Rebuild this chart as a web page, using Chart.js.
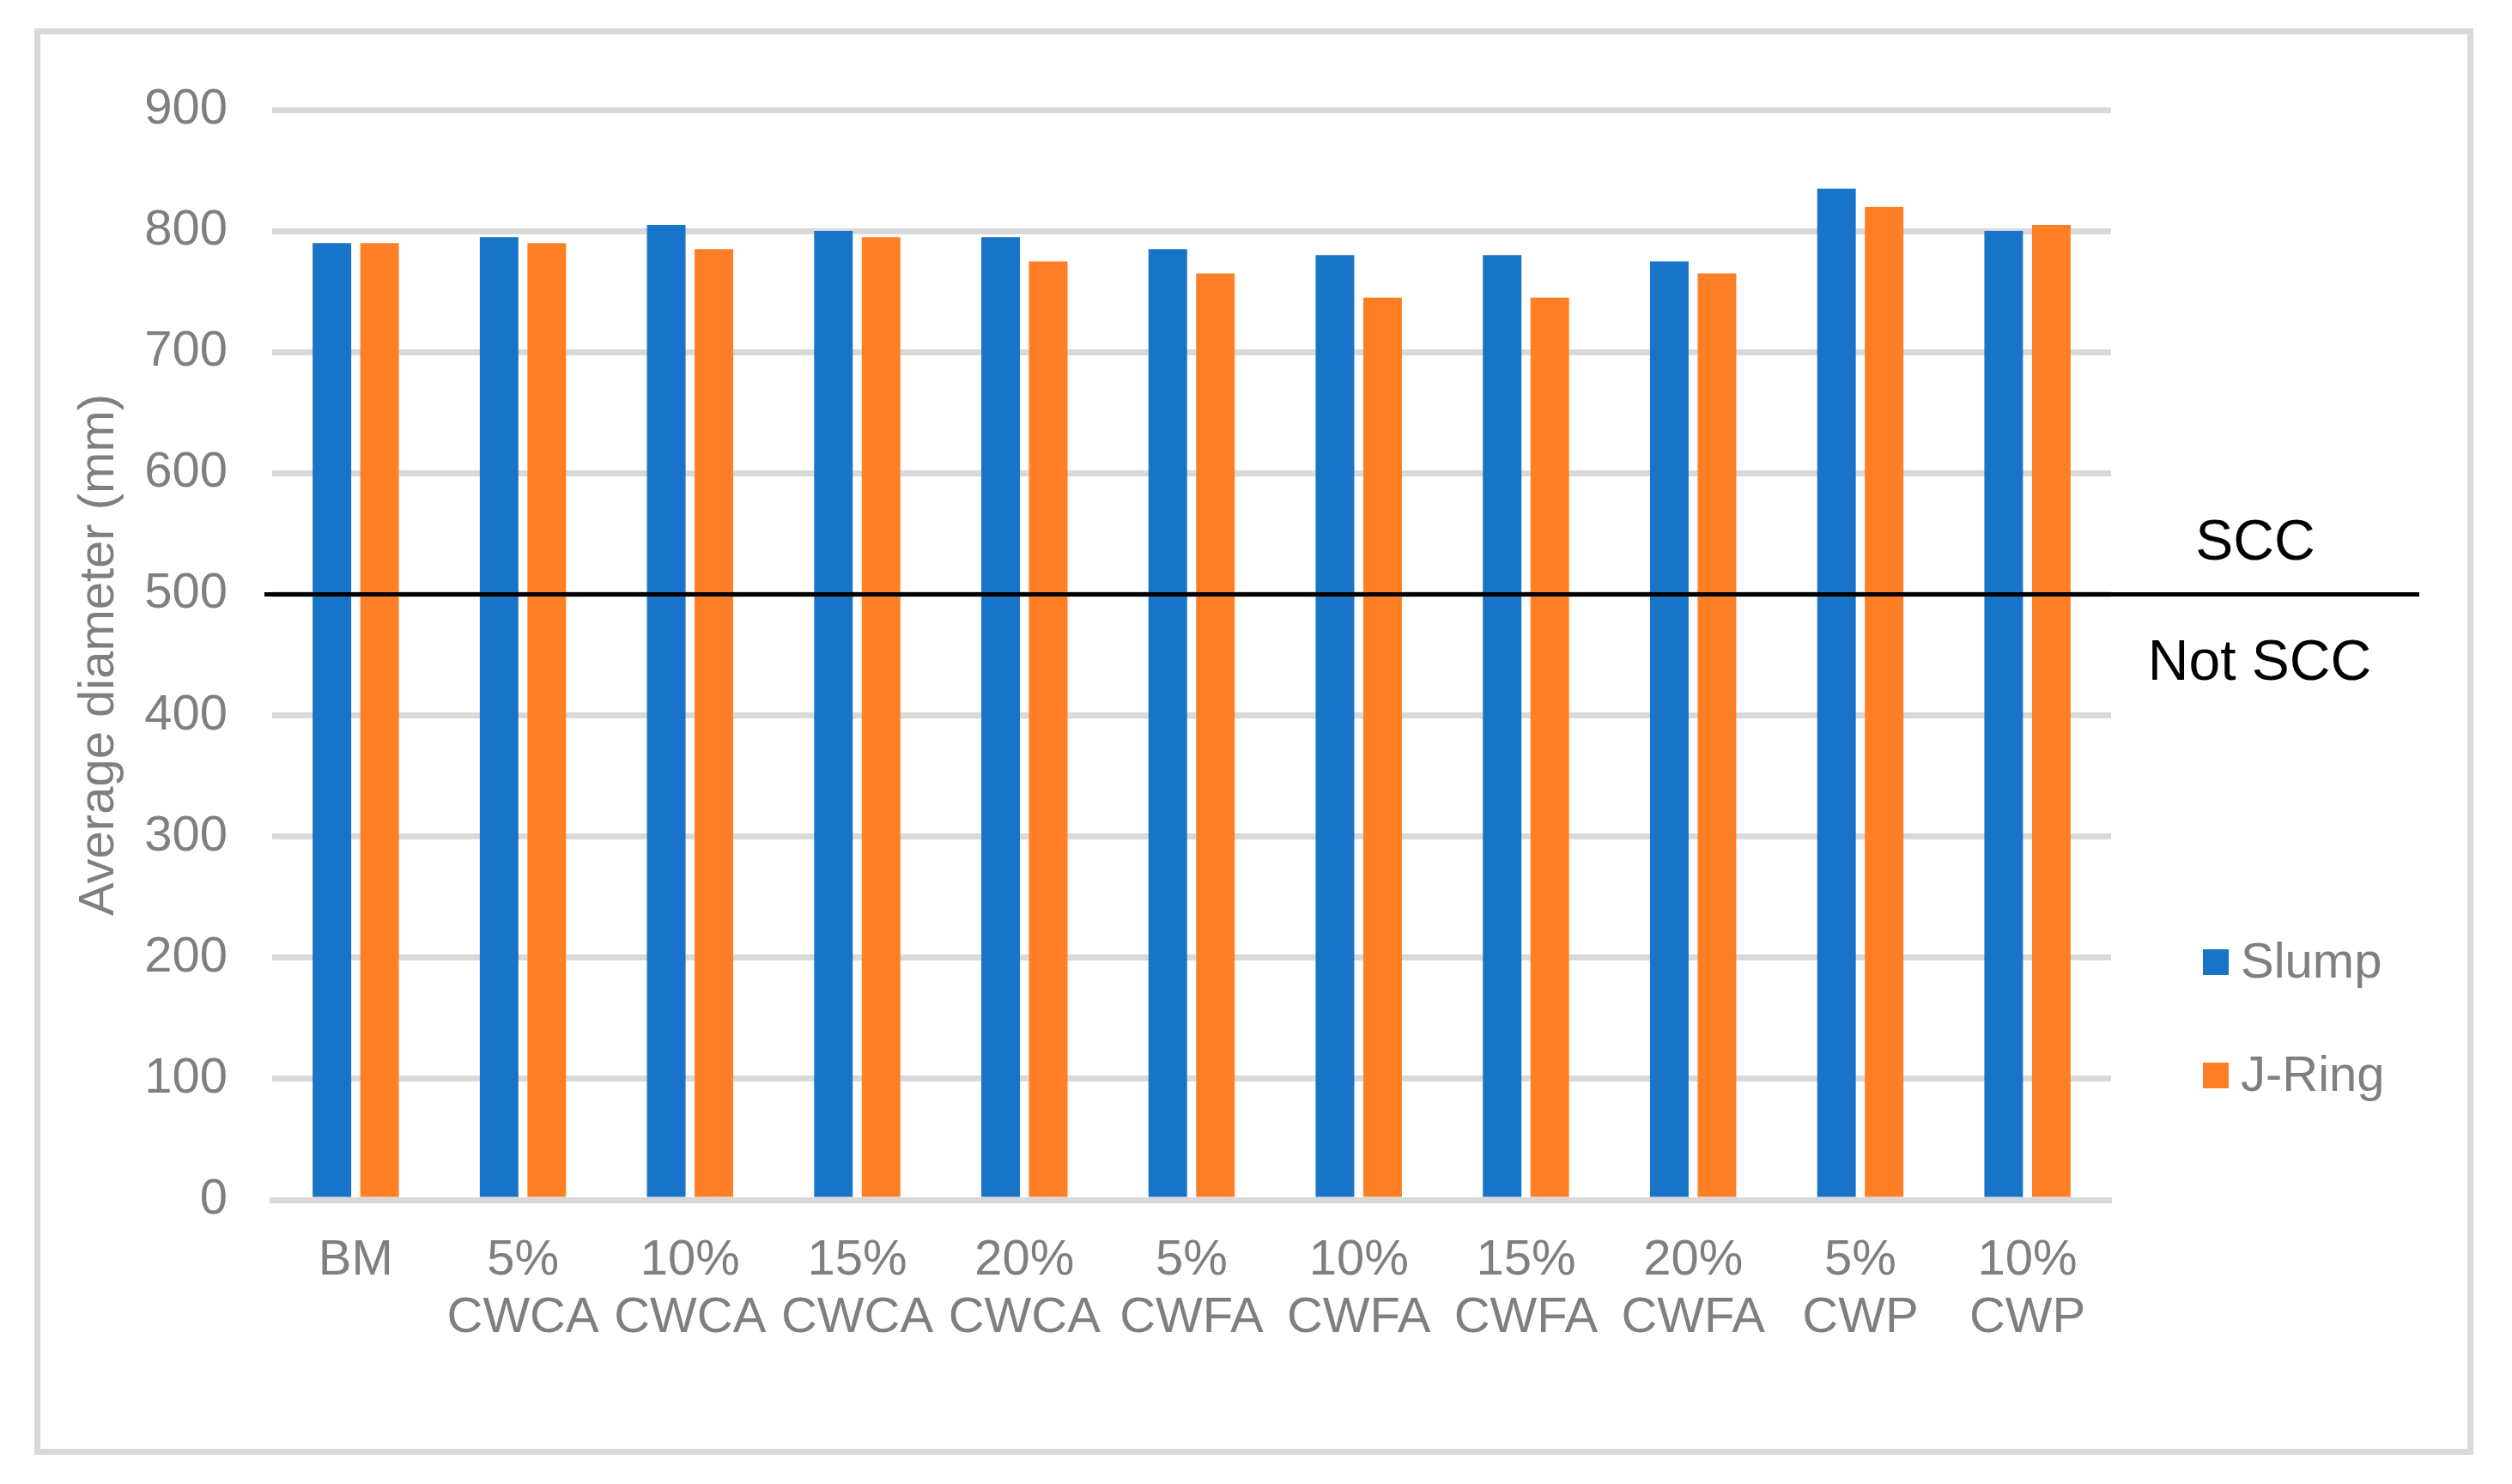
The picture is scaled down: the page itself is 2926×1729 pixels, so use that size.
<!DOCTYPE html>
<html>
<head>
<meta charset="utf-8">
<script src="https://cdn.jsdelivr.net/npm/chart.js@4.4.1/dist/chart.umd.min.js"></script>
<style>
    body { margin: 0; background: #fff; }
    #wrap { position: relative; width: 2926px; height: 1729px; }
    #frame {
        position: absolute; left: 40px; top: 33px; width: 2841px; height: 1662px;
        box-sizing: border-box; border: 7px solid #d9d9d9;
    }
    #chart { position: absolute; left: 0; top: 0; width: 2926px; height: 1729px; }
</style>
</head>
<body>
<div id="wrap">
    <div id="frame"></div>
    <canvas id="chart" width="2926" height="1729"></canvas>
</div>
<script>
// data
const categories = [
    ["BM"], ["5%", "CWCA"], ["10%", "CWCA"], ["15%", "CWCA"], ["20%", "CWCA"],
    ["5%", "CWFA"], ["10%", "CWFA"], ["15%", "CWFA"], ["20%", "CWFA"],
    ["5%", "CWP"], ["10%", "CWP"]
];
const slumpData = [790, 795, 805, 800, 795, 785, 780, 780, 775, 835, 800];
const jRingData = [790, 790, 785, 795, 775, 765, 745, 745, 765, 820, 805];
const seriesNames = ["Slump", "J-Ring"];
const seriesColors = ["#1874c8", "#ff7f27"];
const yTicks = [0, 100, 200, 300, 400, 500, 600, 700, 800, 900];
const sccLimit = 500;
const zoneLabels = ["SCC", "Not SCC"];

const grayText = "#7f7f7f";
const fontFamily = "'Liberation Sans', Arial, sans-serif";

// threshold line + SCC labels + legend
const extras = {
    id: "extras",
    afterDatasetsDraw(chart) {
        const c = chart.ctx;
        const y = chart.scales.y.getPixelForValue(sccLimit);
        c.save();
        c.strokeStyle = "#000";
        c.lineWidth = 5;
        c.beginPath();
        c.moveTo(chart.chartArea.left - 9, y);
        c.lineTo(2818, y);
        c.stroke();

        c.fillStyle = "#000";
        c.font = "66px " + fontFamily;
        c.textAlign = "center";
        c.textBaseline = "middle";
        c.fillText(zoneLabels[0], 2627, y - 59);
        c.fillText(zoneLabels[1], 2632, y + 81);

        // legend
        c.textAlign = "left";
        c.font = "58px " + fontFamily;
        const legendY = [1121, 1253];
        chart.data.datasets.forEach((ds, i) => {
            c.fillStyle = ds.backgroundColor;
            c.fillRect(2566, legendY[i] - 15, 30, 30);
            c.fillStyle = grayText;
            c.fillText(ds.label, 2610, legendY[i] + 2);
        });
        c.restore();
    }
};

const ctx = document.getElementById("chart");

const chart = new Chart(ctx, {
    type: "bar",
    data: {
        labels: categories,
        datasets: [{
            label: seriesNames[0],
            data: slumpData,
            backgroundColor: seriesColors[0],
            categoryPercentage: 0.57,
            barPercentage: 0.81
        }, {
            label: seriesNames[1],
            data: jRingData,
            backgroundColor: seriesColors[1],
            categoryPercentage: 0.57,
            barPercentage: 0.81
        }]
    },
    options: {
        responsive: false,
        devicePixelRatio: 1,
        animation: false,
        layout: {
            padding: { left: 0, top: 128, right: 467, bottom: 0 }
        },
        plugins: {
            legend: { display: false },
            tooltip: { enabled: false }
        },
        scales: {
            x: {
                z: 1,
                grid: { display: false, drawTicks: false },
                border: { display: true, color: "#d9d9d9", width: 7 },
                ticks: {
                    color: grayText,
                    padding: 38,
                    maxRotation: 0,
                    autoSkip: false,
                    font: { family: fontFamily, size: 58, lineHeight: 1.155 }
                },
                afterFit(scale) { scale.height = 331; }
            },
            y: {
                min: yTicks[0],
                max: yTicks[yTicks.length - 1],
                grid: { color: "#d9d9d9", lineWidth: 7, drawTicks: false },
                border: { display: false },
                ticks: {
                    stepSize: yTicks[1] - yTicks[0],
                    color: grayText,
                    padding: 52,
                    font: { family: fontFamily, size: 58 }
                },
                title: {
                    display: true,
                    text: "Average diameter (mm)",
                    color: grayText,
                    padding: { top: 81 },
                    font: { family: fontFamily, size: 58 }
                },
                afterFit(scale) { scale.width = 317; }
            }
        }
    },
    plugins: [extras]
});
</script>
</body>
</html>
